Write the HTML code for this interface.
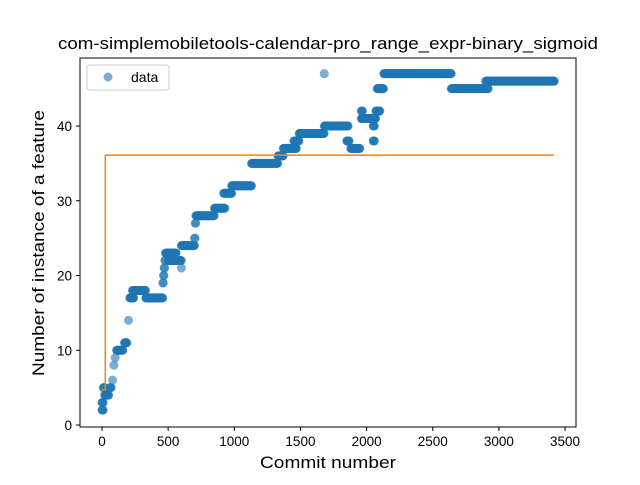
<!DOCTYPE html>
<html><head><meta charset="utf-8"><style>
body{margin:0;background:#fff;font-family:"Liberation Sans","DejaVu Sans",sans-serif}
</style></head><body>
<svg id="chart" width="640" height="480" xmlns="http://www.w3.org/2000/svg" font-family="Liberation Sans, sans-serif">
<rect width="640" height="480" fill="#fff"/>
<text x="328" y="49" text-anchor="middle" font-size="16.5" textLength="540" lengthAdjust="spacingAndGlyphs">com-simplemobiletools-calendar-pro_range_expr-binary_sigmoid</text>
<g id="points"></g>
<g id="fit"></g>
<rect x="80" y="58" width="496" height="369" fill="none" stroke="#000" stroke-width="1"/>
<g id="axes"></g>
<text x="328" y="468" text-anchor="middle" font-size="16.5" textLength="136" lengthAdjust="spacingAndGlyphs">Commit number</text>
<text transform="translate(44,243) rotate(-90)" text-anchor="middle" font-size="16.5" textLength="266" lengthAdjust="spacingAndGlyphs">Number of instance of a feature</text>
<g>
<rect x="87" y="65" width="82" height="25" rx="3" fill="#fff" fill-opacity="0.8" stroke="#ccc"/>
<circle cx="108" cy="77" r="4.5" fill="#1f77b4" fill-opacity="0.6"/>
<text x="131" y="82" font-size="14">data</text>
</g>
</svg>
<script>
// step segments: start commit, end commit, value
const segStart = [0,0,10,20,60,80,90,100,110,170,200,210,230,330,460,465,470,475,480,500,520,600,600,700,705,710,850,920,980,1130,1330,1370,1450,1490,1680,1680,1850,1880,1960,1970,1960,2050,2050,2070,2080,2130,2640,2900];
const segEnd   = [10,10,20,50,70,80,90,100,160,190,200,240,330,460,465,470,475,480,560,600,560,600,700,705,710,850,930,980,1130,1330,1370,1470,1490,1680,1860,1680,1870,1950,1970,2000,2070,2060,2060,2100,2130,2640,2920,3420];
const segValue = [2,3,5,4,5,6,8,9,10,11,14,17,18,17,19,20,21,22,23,22,23,21,24,25,27,28,29,31,32,35,36,37,38,39,40,47,38,37,42,41,41,38,40,42,45,47,45,46];
const xTicks = [0,500,1000,1500,2000,2500,3000,3500];
const yTicks = [0,10,20,30,40];
const fitX = [0,25,25,3415];
const fitY = [4.7,4.7,36.1,36.1];
const X = v => 102 + v*0.1323;
const Y = v => 425 - v*7.475;
const NS = "http://www.w3.org/2000/svg";
const pts = document.getElementById('points');
for (let i=0;i<segStart.length;i++){
  for (let c=segStart[i]; c<=segEnd[i]; c+=3){
    const e=document.createElementNS(NS,'circle');
    
    
    e.setAttribute('cx',X(c));e.setAttribute('cy',Y(segValue[i]));e.setAttribute('r',4.5);
    e.setAttribute('fill','#1f77b4');e.setAttribute('fill-opacity','0.6');
    pts.appendChild(e);
  }
}
const fit=document.createElementNS(NS,'polyline');


fit.setAttribute('points',fitX.map((x,i)=>X(x)+','+Y(fitY[i])).join(' '));
fit.setAttribute('fill','none');fit.setAttribute('stroke','#ff7f0e');fit.setAttribute('stroke-width','1.5');
document.getElementById('fit').appendChild(fit);
const ax=document.getElementById('axes');
xTicks.forEach(t=>{
  const l=document.createElementNS(NS,'line');
  
  
  l.setAttribute('x1',X(t));l.setAttribute('x2',X(t));l.setAttribute('y1',427);l.setAttribute('y2',431);l.setAttribute('stroke','#000');
  ax.appendChild(l);
  const s=document.createElementNS(NS,'text');
  
  
  s.setAttribute('x',X(t));s.setAttribute('y',446);s.setAttribute('text-anchor','middle');s.setAttribute('font-size','13.5');
  s.textContent=t;ax.appendChild(s);
});
yTicks.forEach(t=>{
  const l=document.createElementNS(NS,'line');
  
  
  l.setAttribute('x1',76);l.setAttribute('x2',80);l.setAttribute('y1',Y(t));l.setAttribute('y2',Y(t));l.setAttribute('stroke','#000');
  ax.appendChild(l);
  const s=document.createElementNS(NS,'text');
  
  
  s.setAttribute('x',72);s.setAttribute('y',Y(t)+5);s.setAttribute('text-anchor','end');s.setAttribute('font-size','13.5');
  s.textContent=t;ax.appendChild(s);
});
</script>
</body></html>
